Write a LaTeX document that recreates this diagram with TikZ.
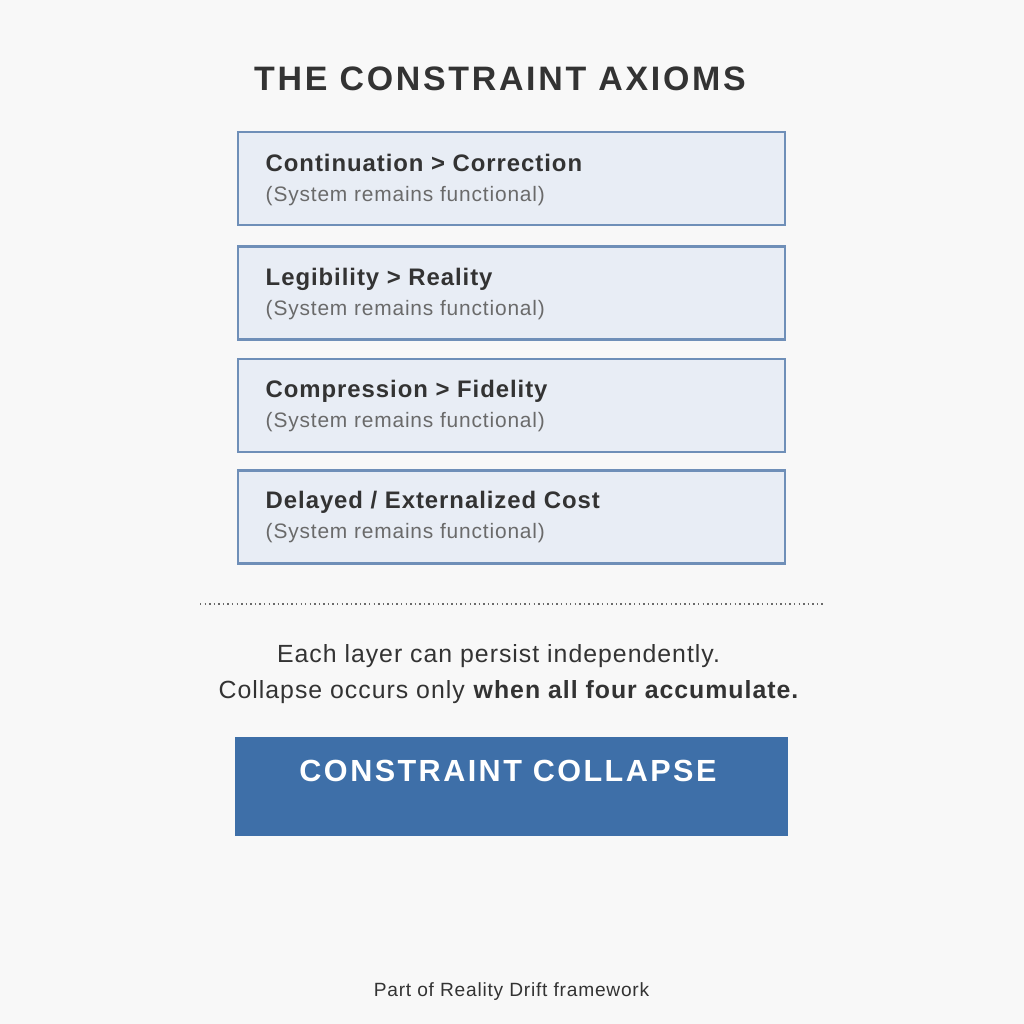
\documentclass[tikz,border=0pt]{standalone}
\usepackage{fontspec}
\setmainfont[LetterSpace=4]{Liberation Sans}
\definecolor{pagebg}{HTML}{F8F8F8}
\definecolor{inkdark}{HTML}{333333}
\definecolor{inkgrey}{HTML}{6A6A6A}
\definecolor{axiomfill}{HTML}{E8EDF5}
\definecolor{axiomline}{HTML}{6F8FB8}
\definecolor{collapseblue}{HTML}{3E6FA8}
\tikzset{
  axiombox/.style={draw=axiomline, line width=0.75pt, fill=axiomfill, minimum width=5.47cm, minimum height=0.93cm, inner sep=0pt},
  axiomhead/.style={anchor=base west, inner sep=0pt, text=inkdark, font=\fontsize{6.8pt}{8pt}\selectfont\bfseries},
  axiomnote/.style={anchor=base west, inner sep=0pt, text=inkgrey, font=\fontsize{5.95pt}{7pt}\selectfont},
  bodytext/.style={anchor=base, inner sep=0pt, text=inkdark, font=\fontsize{7.07pt}{8pt}\selectfont}
}
\begin{document}
\begin{tikzpicture}

% Page
\fill[pagebg] (0,0) rectangle (10.24,-10.24);
\useasboundingbox (0,0) rectangle (10.24,-10.24);

% Title
\node[anchor=base, inner sep=0pt, text=inkdark, font=\fontsize{9.65pt}{11pt}\selectfont\bfseries\addfontfeature{LetterSpace=8}] (title) at (5.0,-0.90) {THE CONSTRAINT AXIOMS};

% Axiom boxes
\node[axiombox] (ax1) at (5.115,-1.785) {};
\node[axiombox] (ax2) at (5.115,-2.93) {};
\node[axiombox] (ax3) at (5.115,-4.055) {};
\node[axiombox] (ax4) at (5.115,-5.17) {};

\node[axiomhead] (ax1head) at (2.65,-1.71) {Continuation > Correction};
\node[axiomnote] (ax1note) at (2.65,-2.01) {(System remains functional)};
\node[axiomhead] (ax2head) at (2.65,-2.85) {Legibility > Reality};
\node[axiomnote] (ax2note) at (2.65,-3.15) {(System remains functional)};
\node[axiomhead] (ax3head) at (2.65,-3.97) {Compression > Fidelity};
\node[axiomnote] (ax3note) at (2.65,-4.27) {(System remains functional)};
\node[axiomhead] (ax4head) at (2.65,-5.08) {Delayed / Externalized Cost};
\node[axiomnote] (ax4note) at (2.65,-5.38) {(System remains functional)};

% Divider
\coordinate (divL) at (2.00,-6.04);
\coordinate (divR) at (8.23,-6.04);
\draw[inkgrey, line width=0.6pt, dash pattern=on 0.4pt off 0.9pt] (divL) -- (divR);

% Note
\node[bodytext] (line1) at (4.985,-6.62) {Each layer can persist independently.};
\node[bodytext] (line2) at (5.09,-6.98) {Collapse occurs only \textbf{when all four accumulate.}};

% Result
\node[fill=collapseblue, minimum width=5.53cm, minimum height=0.99cm, inner sep=0pt] (collapse) at (5.115,-7.865) {};
\node[anchor=base, inner sep=0pt, text=white, font=\fontsize{8.7pt}{10pt}\selectfont\bfseries\addfontfeature{LetterSpace=8}] (collapsetext) at (5.08,-7.81) {CONSTRAINT COLLAPSE};

% Footer
\node[anchor=base, inner sep=0pt, text=inkdark, font=\fontsize{5.45pt}{6pt}\selectfont] (footer) at (5.115,-9.96) {Part of Reality Drift framework};

\end{tikzpicture}
\end{document}
